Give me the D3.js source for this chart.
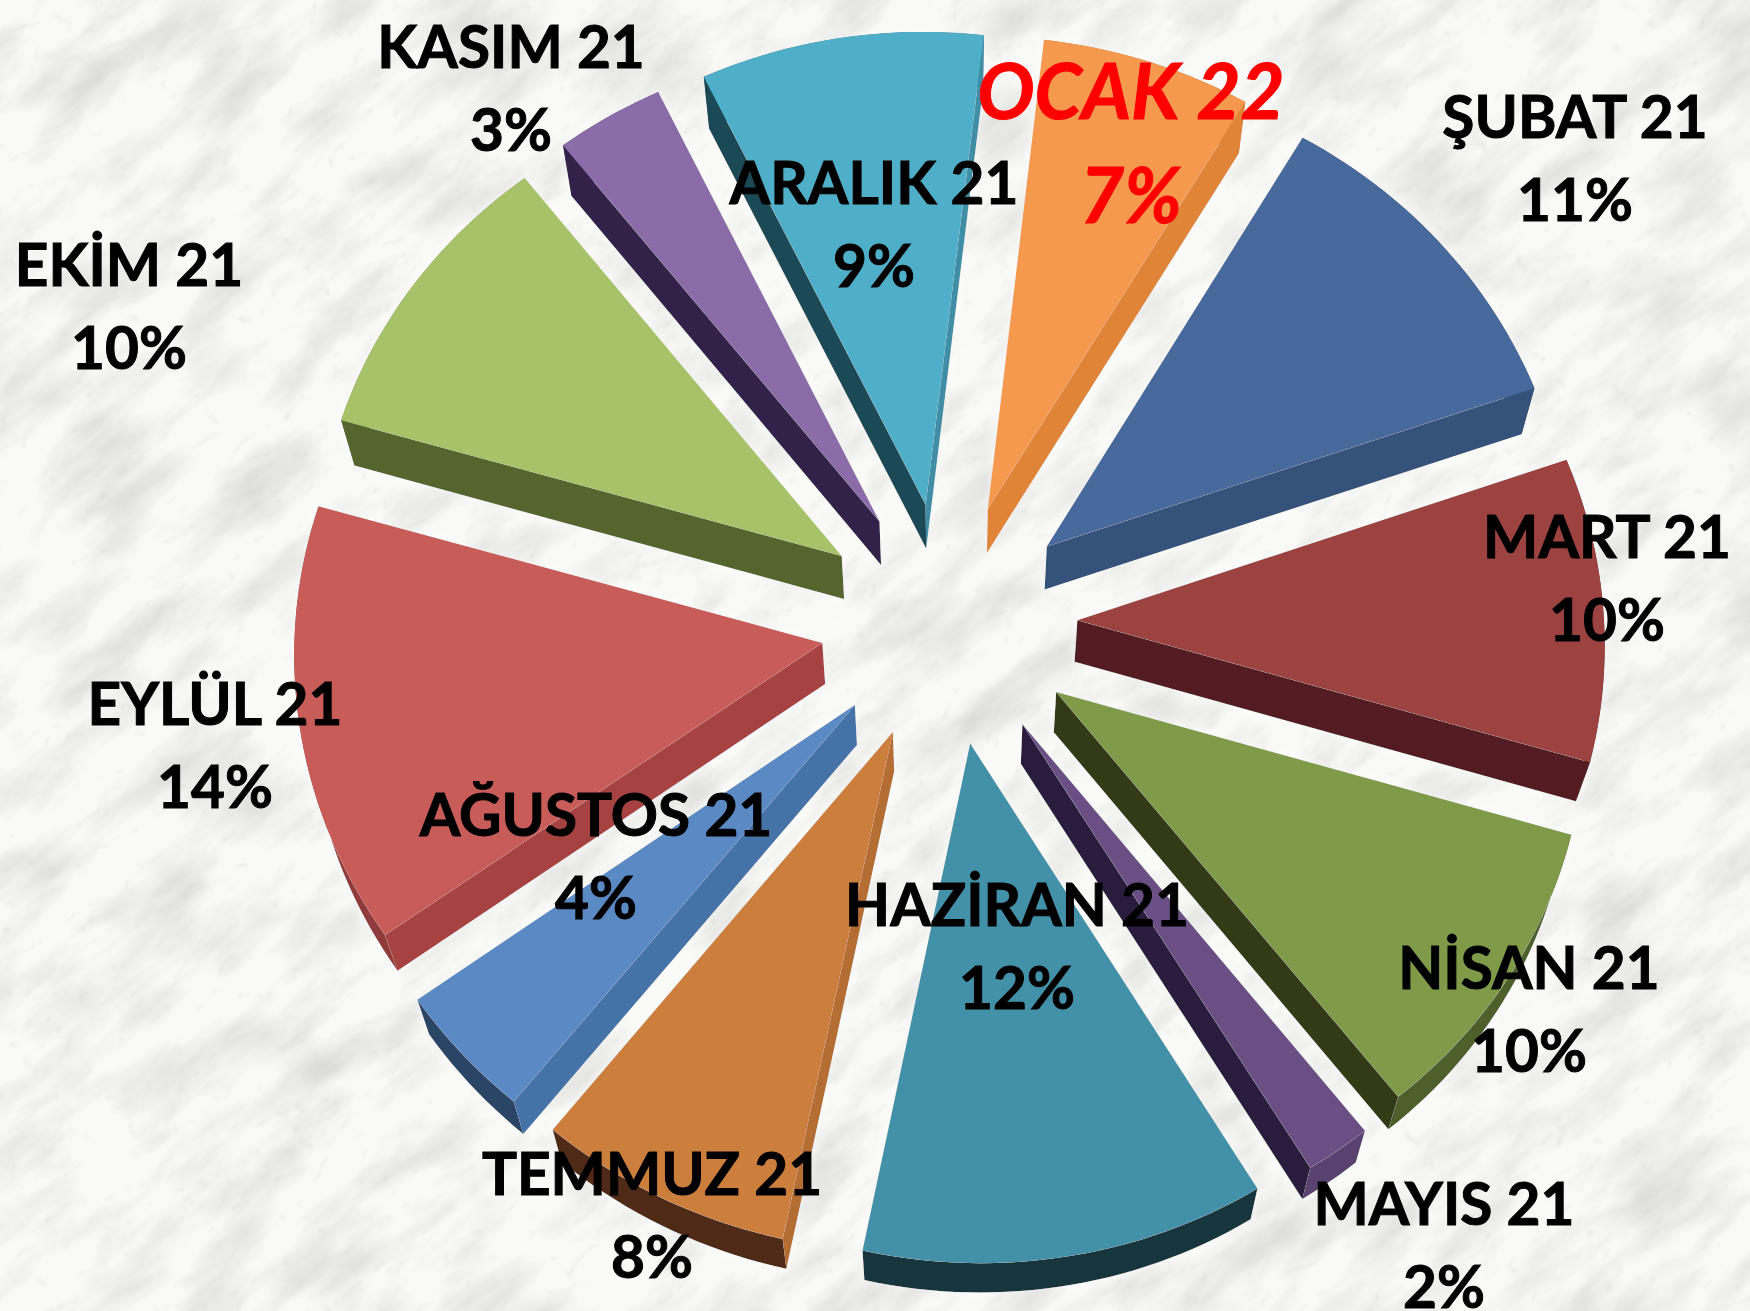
<!DOCTYPE html>
<html lang="tr">
<head>
<meta charset="UTF-8">
<title>Pasta grafik</title>
<script src="https://d3js.org/d3.v7.min.js"></script>
<style>
  html, body { margin: 0; padding: 0; background: #f6f6f5; }
  svg { display: block; }
  text { font-family: Lato, "Open Sans", sans-serif; font-weight: 700; text-anchor: middle; stroke-width: 1px; }
</style>
</head>
<body>
<svg id="chart" width="1750" height="1311"></svg>
<script>
var months = ["OCAK 22", "ŞUBAT 21", "MART 21", "NİSAN 21", "MAYIS 21", "HAZİRAN 21", "TEMMUZ 21", "AĞUSTOS 21", "EYLÜL 21", "EKİM 21", "KASIM 21", "ARALIK 21"];
// shares, the labels show them rounded
var shares = [6.7, 11.2, 10, 10, 2, 12, 7.5, 4.2, 14.1, 9.85, 3.45, 9];

var topColors = ["#f4994e", "#46699b", "#9c4341", "#7f9a49", "#6b4f85", "#4391a8", "#cc7e3e", "#5a89c3", "#c85b58", "#a7c267", "#8a6da8", "#50aec8"];
var startWall = ["#e08539", "#34527a", "#7c3533", "#5f7336", "#4f3b63", "#33707f", "#b46d30", "#4573a8", "#a64242", "#55652d", "#30234a", "#1f4a56"];
var endWall = ["#e08539", "#34527a", "#521e20", "#333a17", "#2a1f3d", "#33707f", "#b46d30", "#4573a8", "#a64242", "#7d9249", "#6a5382", "#3f8ea6"];
var rimWall = ["#c07530", "#2f4a6f", "#5f2422", "#4d5e2b", "#5a4270", "#17343c", "#4f2b13", "#2b4465", "#8f3b3b", "#6a8040", "#5a4270", "#2f7287"];

// label centre x, first baseline y
var labelX = [1131, 1575, 1607, 1529, 1444, 1017, 652, 596, 215, 129, 511, 874];
var labelY = [119, 138, 558, 989, 1225, 926, 1195, 836, 725, 286, 68, 204];
var lineGap = 83;

var width = 1750, height = 1311;
var cx = 949, cy = 623;
var radius = 525, explode = 128;
var rotation = 5.5 * Math.PI / 180;

var svg = d3.select("#chart");

// marble background
var defs = svg.append("defs");
var clouds = defs.append("filter").attr("id", "clouds")
    .attr("x", 0).attr("y", 0).attr("width", 1).attr("height", 1);
clouds.append("feTurbulence").attr("type", "fractalNoise")
    .attr("baseFrequency", "0.009 0.024").attr("numOctaves", 6).attr("seed", 4);
clouds.append("feColorMatrix").attr("type", "matrix")
    .attr("values", "0 0 0 0 0.6  0 0 0 0 0.6  0 0 0 0 0.58  1.3 0 0 0 -0.54");
var veins = defs.append("filter").attr("id", "veins")
    .attr("x", 0).attr("y", 0).attr("width", 1).attr("height", 1);
veins.append("feTurbulence").attr("type", "turbulence")
    .attr("baseFrequency", "0.012 0.03").attr("numOctaves", 4).attr("seed", 9);
veins.append("feColorMatrix").attr("type", "matrix")
    .attr("values", "0 0 0 0 0.6  0 0 0 0 0.6  0 0 0 0 0.58  -3.2 0 0 0 0.36");
veins.append("feGaussianBlur").attr("stdDeviation", 1.1);

var halo = defs.append("filter").attr("id", "halo")
    .attr("x", "-10%").attr("y", "-10%").attr("width", "120%").attr("height", "120%");
halo.append("feDropShadow").attr("dx", 0).attr("dy", 0).attr("stdDeviation", 7)
    .attr("flood-color", "#fff").attr("flood-opacity", 0.6);

svg.append("rect").attr("width", width).attr("height", height).attr("fill", "#f9f9f8");
var marble = svg.append("g").attr("transform", "rotate(-38 875 655)");
["clouds", "veins"].forEach(function (id) {
    marble.append("rect")
        .attr("x", -500).attr("y", -600).attr("width", 2750).attr("height", 2500)
        .attr("fill", "#fff")
        .attr("filter", "url(#" + id + ")");
});

// tilted plane to screen
function project(px, py) {
    return [
        cx + px * (1.004 + 0.00006 * py) + 0.000022 * py * py,
        cy + 0.945 * py + 0.000058 * py * py + px * (0.012 - 0.000015 * py)
    ];
}

var depth = d3.scaleLinear().domain([390, 1228]).range([46, 30]);

function extrude(p) {
    return [p[0] + (cx - p[0]) * 0.022, p[1] + depth(p[1])];
}

var pie = d3.pie().sort(null).startAngle(rotation).endAngle(rotation + 2 * Math.PI);
var line = d3.line();

var slices = pie(shares).map(function (d, i) {
    var mid = (d.startAngle + d.endAngle) / 2;
    var ox = explode * Math.sin(mid), oy = -explode * Math.cos(mid);
    var steps = Math.max(6, Math.ceil((d.endAngle - d.startAngle) * 40));
    var rim = d3.range(steps + 1).map(function (k) {
        var a = d.startAngle + (d.endAngle - d.startAngle) * k / steps;
        return project(ox + radius * Math.sin(a), oy - radius * Math.cos(a));
    });
    return { i: i, apex: project(ox, oy), rim: rim };
});

function cross(a, b, c) {
    return (b[0] - a[0]) * (c[1] - a[1]) - (b[1] - a[1]) * (c[0] - a[0]);
}

// a side wall only shows when its shifted edge falls outside the top face
function wallShows(d, corner, other) {
    var shifted = extrude(d.apex);
    return cross(d.apex, corner, shifted) * cross(d.apex, corner, other) < 0;
}

function quad(a, b) {
    return line([a, b, extrude(b), extrude(a)]) + "Z";
}

var pieces = svg.append("g").attr("filter", "url(#halo)");

var groups = pieces.selectAll("g.slice")
    .data(slices.slice().sort(function (a, b) { return a.apex[1] - b.apex[1]; }))
    .enter().append("g").attr("class", "slice");

groups.append("path")
    .attr("d", function (d) { return line(d.rim.concat(d.rim.map(extrude).reverse())) + "Z"; })
    .attr("fill", function (d) { return rimWall[d.i]; });
groups.filter(function (d) { return wallShows(d, d.rim[0], d.rim[d.rim.length - 1]); })
    .append("path")
    .attr("d", function (d) { return quad(d.apex, d.rim[0]); })
    .attr("fill", function (d) { return startWall[d.i]; });
groups.filter(function (d) { return wallShows(d, d.rim[d.rim.length - 1], d.rim[0]); })
    .append("path")
    .attr("d", function (d) { return quad(d.apex, d.rim[d.rim.length - 1]); })
    .attr("fill", function (d) { return endWall[d.i]; });
groups.append("path")
    .attr("d", function (d) { return line([d.apex].concat(d.rim)) + "Z"; })
    .attr("fill", function (d) { return topColors[d.i]; });

// labels
var labels = svg.append("g").selectAll("g")
    .data(months)
    .enter().append("g")
    .attr("transform", function (d, i) { return "translate(" + labelX[i] + "," + labelY[i] + ")"; })
    .style("font-size", function (d, i) { return i === 0 ? "76px" : "58.5px"; })
    .style("font-style", function (d, i) { return i === 0 ? "italic" : "normal"; });

function labelColor(d, i) { return i === 0 ? "#ff0000" : "#000"; }

labels.append("text")
    .style("fill", labelColor).style("stroke", labelColor)
    .text(function (d) { return d; });
labels.append("text")
    .attr("y", function (d, i) { return i === 0 ? 104 : lineGap; })
    .style("fill", labelColor).style("stroke", labelColor)
    .text(function (d, i) { return Math.round(shares[i]) + "%"; });
</script>
</body>
</html>
